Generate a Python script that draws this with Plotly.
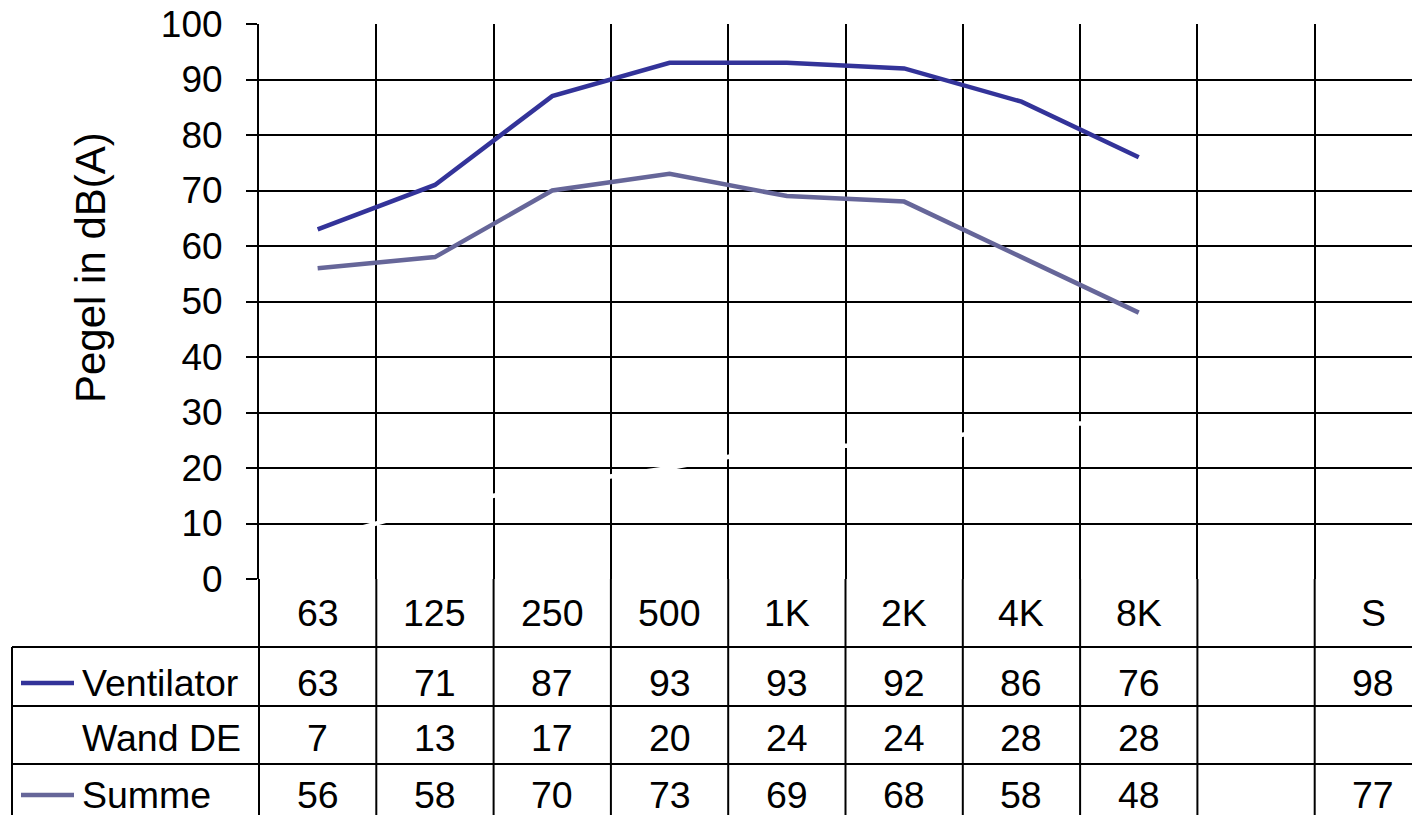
import plotly.graph_objects as go

# Octave bands plus the overall sum column "S"
categories = ["63", "125", "250", "500", "1K", "2K", "4K", "8K", "", "S"]
ventilator = [63, 71, 87, 93, 93, 92, 86, 76, None, 98]
wand_de = [7, 13, 17, 20, 24, 24, 28, 28, None, None]
summe = [56, 58, 70, 73, 69, 68, 58, 48, None, 77]

series_names = ["Ventilator", "Wand DE", "Summe"]
series_values = [ventilator, wand_de, summe]
series_colors = ["#333399", "#FFFFFF", "#666699"]

y_ticks = list(range(0, 101, 10))

W, H = 1412, 815
M_L, M_T, M_B = 259, 24, 236
PLOT_H = H - M_T - M_B
FONT = "Liberation Sans, Arial, sans-serif"


def py(pix):
    """Page pixel row -> paper y coordinate."""
    return (H - M_B - pix) / PLOT_H


def px(pix):
    """Page pixel column -> paper x coordinate."""
    return (pix - M_L) / (W - M_L)


x_idx = list(range(len(categories)))

fig = go.Figure()
for name, vals, col in zip(series_names, series_values, series_colors):
    fig.add_trace(go.Scatter(
        x=x_idx, y=vals, mode="lines", name=name,
        line=dict(color=col, width=4.5),
        connectgaps=False, showlegend=False, hoverinfo="skip",
    ))

# data-table geometry (page pixel rows)
header_c = 613
row_lines = [647, 706, 764]
row_centres = [683, 738, 795]
table_left = 12

shapes = []
line_style = dict(color="black", width=2)
# column boundaries continue below the plot through the table
for k in range(len(categories)):
    if k == 0:
        shapes.append(dict(type="line", xref="paper", yref="paper",
                           x0=0, x1=0, y0=0, y1=py(H + 5),
                           line=line_style, layer="above"))
    else:
        shapes.append(dict(type="line", xref="x", yref="paper",
                           x0=k - 0.5, x1=k - 0.5, y0=0, y1=py(H + 5),
                           line=line_style, layer="above"))
# horizontal table rules
for r in row_lines:
    shapes.append(dict(type="line", xref="paper", yref="paper",
                       x0=px(table_left), x1=1.02, y0=py(r), y1=py(r),
                       line=line_style, layer="above"))
# outer left border of the series-name column
shapes.append(dict(type="line", xref="paper", yref="paper",
                   x0=px(table_left), x1=px(table_left),
                   y0=py(row_lines[0]), y1=py(H + 5),
                   line=line_style, layer="above"))

annotations = []
cell_font = dict(family=FONT, size=37.5, color="black")
for k, cat in enumerate(categories):
    annotations.append(dict(x=k, y=py(header_c), xref="x", yref="paper",
                            text=cat, showarrow=False, font=cell_font,
                            xanchor="center", yanchor="middle"))
for name, vals, col, yc in zip(series_names, series_values, series_colors, row_centres):
    # legend key + series label
    shapes.append(dict(type="line", xref="paper", yref="paper",
                       x0=px(21), x1=px(74), y0=py(yc), y1=py(yc),
                       line=dict(color=col, width=4.5), layer="above"))
    annotations.append(dict(x=px(80), y=py(yc), xref="paper", yref="paper",
                            text=name, showarrow=False, font=cell_font,
                            xanchor="left", yanchor="middle"))
    for k, v in enumerate(vals):
        if v is None:
            continue
        annotations.append(dict(x=k, y=py(yc), xref="x", yref="paper",
                                text=str(v), showarrow=False, font=cell_font,
                                xanchor="center", yanchor="middle"))

# value-axis title
annotations.append(dict(x=px(90), y=py(268), xref="paper", yref="paper",
                        text="Pegel in dB(A)", textangle=-90, showarrow=False,
                        font=dict(family=FONT, size=42, color="black"),
                        xanchor="center", yanchor="middle"))

col_w = (1432 - M_L) / len(categories)
x_right = -0.5 + (W - M_L) / col_w

fig.update_layout(
    width=W, height=H,
    margin=dict(l=M_L, r=0, t=M_T, b=M_B, pad=0),
    paper_bgcolor="white", plot_bgcolor="white",
    font=dict(family=FONT, size=37.5, color="black"),
    xaxis=dict(
        range=[-0.5, x_right],
        tickvals=[k + 0.5 for k in range(len(categories) - 1)],
        showticklabels=False, ticks="",
        showgrid=True, gridcolor="black", gridwidth=2,
        zeroline=False, showline=False,
    ),
    yaxis=dict(
        range=[0, 100], tickvals=y_ticks,
        ticks="outside", ticklen=11, tickwidth=2, tickcolor="black",
        ticklabelstandoff=16,
        tickfont=dict(family=FONT, size=37, color="black"),
        showgrid=True, gridcolor="black", gridwidth=2,
        zeroline=False, showline=True, linecolor="black", linewidth=2,
    ),
    shapes=shapes,
    annotations=annotations,
)

fig.write_html("out.html")
